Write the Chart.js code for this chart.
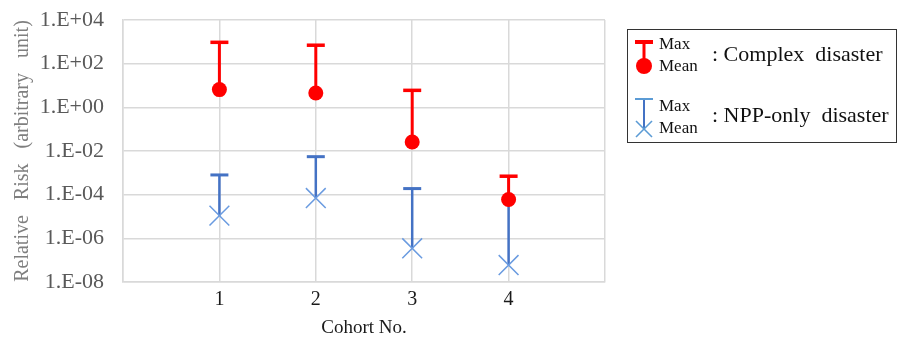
<!DOCTYPE html>
<html>
<head>
<meta charset="utf-8">
<script src="https://cdn.jsdelivr.net/npm/chart.js@4.4.1/dist/chart.umd.min.js"></script>
<style>
  html, body { margin: 0; padding: 0; background: #fff; }
  .wrap { position: relative; width: 900px; height: 340px; }
  canvas { position: absolute; left: 0; top: 0; }
  .legend {
    position: absolute; left: 627px; top: 29px; width: 270px; height: 114px;
    border: 1px solid #333; box-sizing: border-box;
    font-family: "Liberation Serif", "Times New Roman", serif; color: #111;
  }
  .legend svg { position: absolute; left: 0; top: 0; }
  .t { position: absolute; white-space: pre; height: 24px; line-height: 24px; }
  .small { left: 31px; font-size: 17px; }
  .big { left: 84px; font-size: 22px; }
</style>
</head>
<body>
<div class="wrap">
  <canvas id="chart" width="900" height="340"></canvas>
  <div class="legend">
    <svg width="60" height="112">
      <line x1="16" y1="12" x2="16" y2="35" stroke="#ff0000" stroke-width="3"/>
      <line x1="7" y1="12" x2="25" y2="12" stroke="#ff0000" stroke-width="4"/>
      <circle cx="16" cy="36" r="8" fill="#ff0000"/>
      <line x1="16" y1="69" x2="16" y2="99" stroke="#4472c4" stroke-width="2"/>
      <line x1="7" y1="69" x2="25" y2="69" stroke="#5b9bd5" stroke-width="2"/>
      <line x1="8" y1="91" x2="24" y2="107" stroke="#5b9bd5" stroke-width="1.6"/>
      <line x1="24" y1="91" x2="8" y2="107" stroke="#5b9bd5" stroke-width="1.6"/>
    </svg>
    <div class="t small" style="top:2px">Max</div>
    <div class="t small" style="top:24px">Mean</div>
    <div class="t big" style="top:12px">: Complex  disaster</div>
    <div class="t small" style="top:64px">Max</div>
    <div class="t small" style="top:86px">Mean</div>
    <div class="t big" style="top:73px">: NPP-only  disaster</div>
  </div>
</div>
<script>
// Data
const cohorts = [1, 2, 3, 4];
const complexMean = [6.5, 4.5, 0.026, 6e-5];
const complexMax = [950, 700, 6, 7e-4];
const nppMean = [1.1e-5, 7e-5, 3.5e-7, 6e-8];
const nppMax = [8e-4, 5.5e-3, 1.9e-4, 6e-5];
const yTickValues = [1e-8, 1e-6, 1e-4, 1e-2, 1, 1e2, 1e4];

const RED = "#ff0000";
const BLUE = "#4472c4";
const BLUE_LIGHT = "#6a9be0";
const SERIF = "'Liberation Serif', 'Times New Roman', serif";

const pts = (ys) => cohorts.map((c, i) => ({ x: c, y: ys[i] }));

// vertical lines from mean up to max, drawn under the markers
const stems = {
  id: "stems",
  beforeDatasetsDraw(chart) {
    const { ctx, scales: { x, y } } = chart;
    const draw = (means, maxs, color, w) => {
      ctx.save();
      ctx.strokeStyle = color;
      ctx.lineWidth = w;
      cohorts.forEach((c, i) => {
        const px = x.getPixelForValue(c);
        ctx.beginPath();
        ctx.moveTo(px, y.getPixelForValue(means[i]));
        ctx.lineTo(px, y.getPixelForValue(maxs[i]));
        ctx.stroke();
      });
      ctx.restore();
    };
    draw(nppMean, nppMax, BLUE, 2.5);
    draw(complexMean, complexMax, RED, 3);
  },
};

const fmtExp = (v) => {
  const e = Math.round(Math.log10(v));
  const s = e < 0 ? "-" : "+";
  return "1.E" + s + String(Math.abs(e)).padStart(2, "0");
};

new Chart(document.getElementById("chart"), {
  type: "scatter",
  data: {
    datasets: [
      { label: "Complex mean", data: pts(complexMean), pointStyle: "circle", pointRadius: 7.5, backgroundColor: RED, borderColor: RED, borderWidth: 0 },
      { label: "Complex max", data: pts(complexMax), pointStyle: "line", pointRadius: 9, borderColor: RED, borderWidth: 3.5 },
      { label: "NPP mean", data: pts(nppMean), pointStyle: "crossRot", pointRadius: 14, borderColor: BLUE_LIGHT, borderWidth: 1.5 },
      // cohort 4 cap sits behind the red dot in the original
      { label: "NPP max", data: pts(nppMax), pointStyle: "line", pointRadius: [9, 9, 9, 6], borderColor: BLUE, borderWidth: 3 },
    ],
  },
  options: {
    responsive: false,
    animation: false,
    events: [],
    layout: { padding: { left: 0, top: 20, right: 295, bottom: 0 } },
    plugins: {
      legend: { display: false },
      tooltip: { enabled: false },
    },
    scales: {
      x: {
        type: "linear",
        min: 0,
        max: 5,
        afterFit: (s) => { s.height = 58; s.paddingLeft = 0; s.paddingRight = 0; },
        grid: { color: "#d9d9d9", lineWidth: 1.5, drawTicks: false },
        border: { color: "#d9d9d9", width: 1.5 },
        ticks: {
          stepSize: 1,
          padding: 6,
          color: "#1a1a1a",
          font: { family: SERIF, size: 20 },
          callback: (v) => (cohorts.includes(v) ? String(v) : ""),
        },
        title: {
          display: true,
          text: "Cohort No.",
          color: "#1a1a1a",
          font: { family: SERIF, size: 19 },
          padding: { top: 4, bottom: 1 },
        },
      },
      y: {
        type: "logarithmic",
        min: 1e-8,
        max: 1e4,
        afterFit: (s) => { s.width = 123; s.paddingTop = 0; s.paddingBottom = 0; },
        afterBuildTicks: (s) => { s.ticks = yTickValues.map((v) => ({ value: v })); },
        grid: { color: "#d9d9d9", lineWidth: 1.5, drawTicks: false },
        border: { color: "#d9d9d9", width: 1.5 },
        ticks: {
          padding: 19,
          color: "#595959",
          font: { family: SERIF, size: 22 },
          callback: (v) => fmtExp(v),
        },
        title: {
          display: true,
          text: "Relative   Risk   (arbitrary   unit)",
          color: "#7f7f7f",
          font: { family: SERIF, size: 20 },
          padding: { top: 11, bottom: 0 },
        },
      },
    },
  },
  plugins: [stems],
});
</script>
</body>
</html>
